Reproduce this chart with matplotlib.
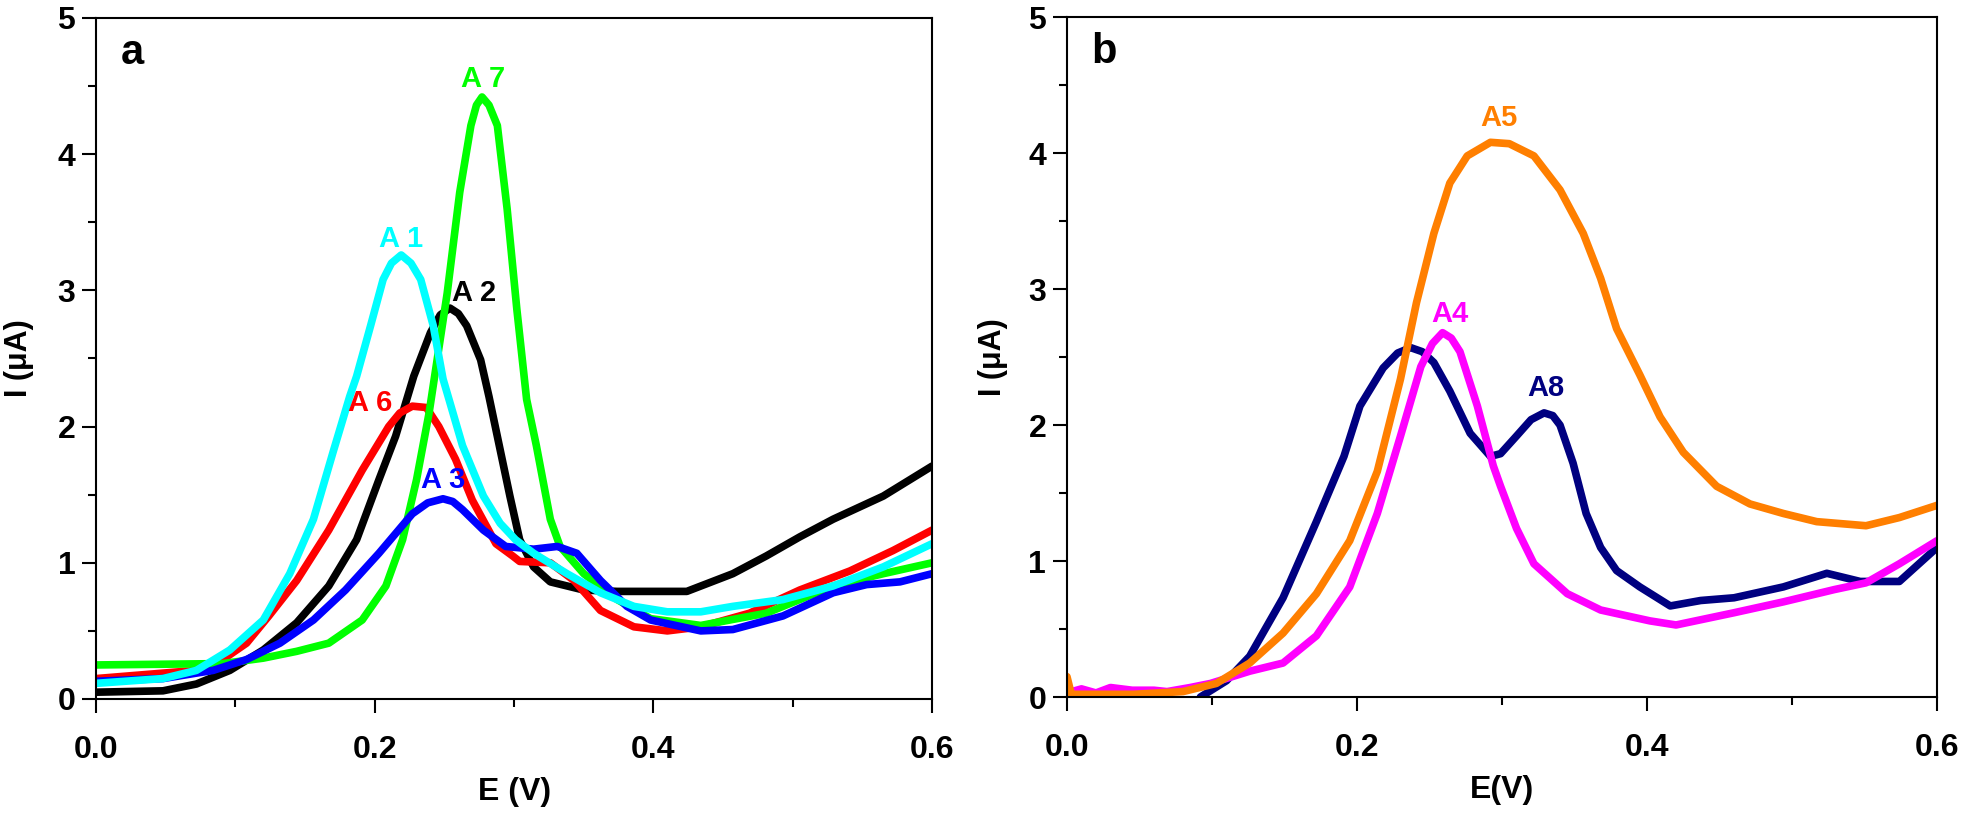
import numpy as np
import matplotlib.pyplot as plt
from matplotlib.ticker import MultipleLocator, FormatStrFormatter

# --- panel a: E (V) / I (uA) ---
e_a1 = [0, 0.048, 0.072, 0.096, 0.12, 0.139, 0.156, 0.17, 0.182, 0.187, 0.197, 0.206, 0.212,
        0.219, 0.226, 0.233, 0.242, 0.249, 0.263, 0.278, 0.29, 0.301, 0.314, 0.338, 0.362,
        0.386, 0.41, 0.434, 0.457, 0.493, 0.529, 0.565, 0.6]
i_a1 = [0.115, 0.15, 0.21, 0.36, 0.58, 0.92, 1.32, 1.81, 2.22, 2.37, 2.74, 3.08, 3.2,
        3.26, 3.2, 3.08, 2.74, 2.35, 1.86, 1.49, 1.29, 1.17, 1.07, 0.92, 0.78,
        0.68, 0.64, 0.64, 0.68, 0.73, 0.83, 0.97, 1.14]

e_a2 = [0, 0.048, 0.072, 0.096, 0.12, 0.144, 0.167, 0.187, 0.203, 0.215, 0.228, 0.24, 0.247,
        0.254, 0.26, 0.266, 0.276, 0.282, 0.29, 0.297, 0.304, 0.314, 0.326, 0.35, 0.374,
        0.424, 0.457, 0.481, 0.505, 0.529, 0.565, 0.6]
i_a2 = [0.05, 0.06, 0.11, 0.21, 0.36, 0.56, 0.83, 1.17, 1.61, 1.93, 2.37, 2.69, 2.82,
        2.87, 2.83, 2.74, 2.49, 2.22, 1.83, 1.49, 1.17, 0.97, 0.86, 0.80, 0.79,
        0.79, 0.92, 1.05, 1.19, 1.32, 1.49, 1.71]

e_a3 = [0, 0.048, 0.084, 0.108, 0.132, 0.156, 0.179, 0.203, 0.227, 0.238, 0.249, 0.256, 0.263,
        0.278, 0.294, 0.314, 0.331, 0.345, 0.362, 0.381, 0.398, 0.434, 0.457, 0.493, 0.529,
        0.553, 0.577, 0.6]
i_a3 = [0.13, 0.15, 0.21, 0.29, 0.41, 0.58, 0.80, 1.07, 1.36, 1.44, 1.47, 1.45, 1.39,
        1.24, 1.12, 1.10, 1.12, 1.07, 0.87, 0.68, 0.58, 0.50, 0.51, 0.61, 0.78,
        0.84, 0.86, 0.92]

e_a6 = [0, 0.048, 0.072, 0.091, 0.108, 0.124, 0.144, 0.167, 0.191, 0.21, 0.218, 0.227, 0.237,
        0.246, 0.258, 0.27, 0.287, 0.299, 0.304, 0.326, 0.343, 0.362, 0.386, 0.41, 0.434,
        0.469, 0.505, 0.541, 0.572, 0.6]
i_a6 = [0.15, 0.19, 0.21, 0.29, 0.41, 0.61, 0.87, 1.24, 1.68, 2.0, 2.1, 2.15, 2.14,
        2.0, 1.76, 1.46, 1.14, 1.05, 1.01, 1.0, 0.87, 0.65, 0.53, 0.50, 0.53,
        0.63, 0.80, 0.94, 1.09, 1.24]

e_a7 = [0, 0.091, 0.12, 0.144, 0.167, 0.191, 0.208, 0.22, 0.23, 0.239, 0.252, 0.261, 0.269,
        0.273, 0.277, 0.282, 0.288, 0.295, 0.302, 0.309, 0.316, 0.326, 0.333, 0.35, 0.374,
        0.398, 0.434, 0.481, 0.529, 0.565, 0.6]
i_a7 = [0.25, 0.26, 0.30, 0.35, 0.41, 0.58, 0.83, 1.17, 1.61, 2.1, 2.98, 3.72, 4.21,
        4.36, 4.42, 4.36, 4.21, 3.6, 2.86, 2.2, 1.86, 1.32, 1.12, 0.92, 0.73,
        0.59, 0.54, 0.63, 0.83, 0.92, 1.0]

# --- panel b ---
e_a4 = [0, 0.01, 0.02, 0.03, 0.045, 0.06, 0.069, 0.085, 0.099, 0.126, 0.149, 0.172, 0.195,
        0.214, 0.23, 0.244, 0.252, 0.259, 0.265, 0.271, 0.283, 0.294, 0.299, 0.31, 0.322,
        0.345, 0.368, 0.402, 0.42, 0.46, 0.494, 0.529, 0.551, 0.574, 0.6]
i_a4 = [0.03, 0.06, 0.03, 0.07, 0.05, 0.05, 0.04, 0.07, 0.1, 0.19, 0.25, 0.45, 0.81,
        1.35, 1.92, 2.43, 2.6, 2.68, 2.64, 2.54, 2.14, 1.70, 1.55, 1.24, 0.98,
        0.76, 0.64, 0.56, 0.53, 0.62, 0.70, 0.79, 0.84, 0.98, 1.15]

e_a5 = [0, 0.003, 0.02, 0.046, 0.08, 0.103, 0.126, 0.149, 0.172, 0.195, 0.214, 0.23, 0.241,
        0.253, 0.264, 0.276, 0.292, 0.305, 0.322, 0.34, 0.356, 0.368, 0.379, 0.395, 0.409,
        0.425, 0.448, 0.471, 0.494, 0.517, 0.551, 0.574, 0.6]
i_a5 = [0.15, 0.02, 0.02, 0.02, 0.04, 0.1, 0.25, 0.47, 0.76, 1.15, 1.66, 2.34, 2.9,
        3.41, 3.78, 3.98, 4.08, 4.07, 3.98, 3.73, 3.41, 3.08, 2.71, 2.37, 2.06,
        1.80, 1.55, 1.42, 1.35, 1.29, 1.26, 1.32, 1.41]

e_a8 = [0.092, 0.11, 0.126, 0.149, 0.172, 0.191, 0.202, 0.218, 0.228, 0.237, 0.245, 0.253,
        0.264, 0.278, 0.292, 0.299, 0.31, 0.32, 0.329, 0.335, 0.34, 0.349, 0.358, 0.368,
        0.379, 0.395, 0.416, 0.437, 0.46, 0.494, 0.524, 0.547, 0.574, 0.6]
i_a8 = [0.0, 0.12, 0.30, 0.73, 1.29, 1.77, 2.14, 2.42, 2.53, 2.57, 2.54, 2.46,
        2.25, 1.94, 1.77, 1.79, 1.92, 2.04, 2.09, 2.07, 2.0, 1.72, 1.35, 1.10,
        0.93, 0.81, 0.67, 0.71, 0.73, 0.81, 0.91, 0.85, 0.85, 1.10]

plain = ["Liberation Sans", "DejaVu Sans"]
plt.rcParams["font.family"] = plain
plt.rcParams["font.weight"] = "bold"

fig = plt.figure(figsize=(19.61, 8.21), dpi=100)
ax_a = fig.add_axes([0.049, 0.1486, 0.4263, 0.8295])
ax_b = fig.add_axes([0.5441, 0.151, 0.4437, 0.828])

line_kw = dict(lw=5.5, solid_joinstyle="round", solid_capstyle="round")
# draw order matters a little where curves overlap
ax_a.plot(e_a2, i_a2, color="black", **line_kw)
ax_a.plot(e_a6, i_a6, color="#ff0000", **line_kw)
ax_a.plot(e_a7, i_a7, color="#00ff00", **line_kw)
ax_a.plot(e_a3, i_a3, color="#0000ff", **line_kw)
ax_a.plot(e_a1, i_a1, color="#00ffff", **line_kw)

ax_b.plot(e_a8, i_a8, color="#000080", **line_kw)
ax_b.plot(e_a4, i_a4, color="#ff00ff", **line_kw)
ax_b.plot(e_a5, i_a5, color="#ff7f00", **line_kw)

# curve labels
lab_kw = dict(ha="center", va="center", fontsize=21, fontweight="bold")
ax_a.text(0.278, 4.55, "A 7", color="#00ff00", **lab_kw)
ax_a.text(0.219, 3.38, "A 1", color="#00ffff", **lab_kw)
ax_a.text(0.271, 2.98, "A 2", color="black", **lab_kw)
ax_a.text(0.197, 2.17, "A 6", color="#ff0000", **lab_kw)
ax_a.text(0.249, 1.61, "A 3", color="#0000ff", **lab_kw)

ax_b.text(0.298, 4.26, "A5", color="#ff7f00", **lab_kw)
ax_b.text(0.264, 2.82, "A4", color="#ff00ff", **lab_kw)
ax_b.text(0.330, 2.27, "A8", color="#000080", **lab_kw)

for ax, letter, xlab in [(ax_a, "a", "E (V)"), (ax_b, "b", "E(V)")]:
    ax.set_xlim(0, 0.6)
    ax.set_ylim(0, 5)
    ax.xaxis.set_major_locator(MultipleLocator(0.2))
    ax.xaxis.set_minor_locator(MultipleLocator(0.1))
    ax.yaxis.set_major_locator(MultipleLocator(1))
    ax.yaxis.set_minor_locator(MultipleLocator(0.5))
    ax.xaxis.set_major_formatter(FormatStrFormatter("%.1f"))
    ax.yaxis.set_major_formatter(FormatStrFormatter("%d"))
    ax.tick_params(which="major", direction="out", length=10, width=1.5, labelsize=23)
    ax.tick_params(which="minor", direction="out", length=6, width=1.5)
    ax.tick_params(axis="x", which="major", pad=16)
    ax.tick_params(axis="y", which="major", pad=5)
    for sp in ax.spines.values():
        sp.set_linewidth(1.5)
    ax.set_xlabel(xlab, fontsize=23, fontweight="bold")
    ax.set_ylabel("I (μA)", fontsize=22, fontweight="bold")
    ax.xaxis.set_label_coords(0.5, -0.115)
    ax.text(0.043, 0.949, letter, transform=ax.transAxes, ha="center", va="center",
            fontsize=30, fontweight="bold")

ax_a.yaxis.set_label_coords(-0.074, 0.5)
ax_b.yaxis.set_label_coords(-0.068, 0.5)

fig.savefig("out.png", dpi=100)
